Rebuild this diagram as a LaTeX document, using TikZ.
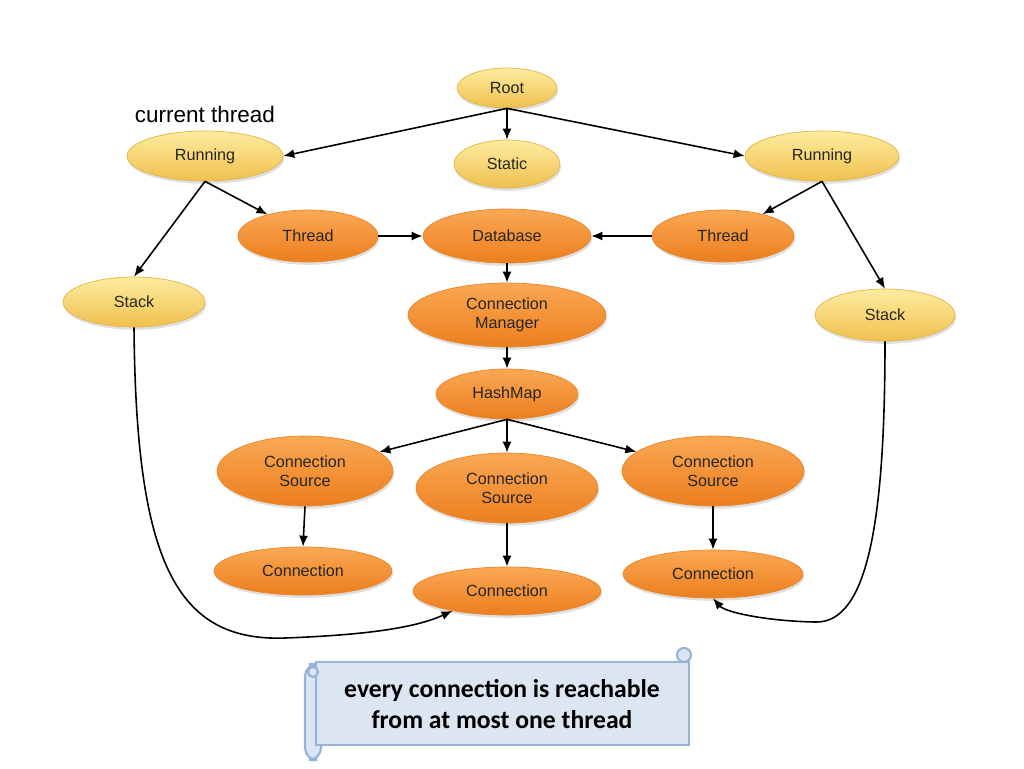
\documentclass[tikz,border=0pt]{standalone}
\usepackage{fontspec}
\setsansfont{Liberation Sans}
\newfontfamily\notefont{Carlito}
\usepackage{tikz}
\usetikzlibrary{shapes.geometric,arrows.meta,shadows}
\definecolor{ylwtop}{RGB}{253,236,160}
\definecolor{ylwbot}{RGB}{240,192,78}
\definecolor{ylwedge}{RGB}{226,180,70}
\definecolor{orgtop}{RGB}{250,168,84}
\definecolor{orgbot}{RGB}{236,126,30}
\definecolor{orgedge}{RGB}{232,134,42}
\definecolor{scrollfill}{RGB}{220,230,242}
\definecolor{scrolledge}{RGB}{149,179,215}

\begin{document}
\begin{tikzpicture}[
  x=0.02cm, y=-0.02cm,
  font=\sffamily\fontsize{9.2}{11}\selectfont,
  el/.style={ellipse, inner sep=0pt, align=center, text=black!85,
             drop shadow={shadow xshift=0.6pt, shadow yshift=-1.6pt, opacity=0.25}},
  yl/.style={el, draw=ylwedge, line width=0.4pt, top color=ylwtop, bottom color=ylwbot},
  og/.style={el, draw=orgedge, line width=0.4pt, top color=orgtop, bottom color=orgbot},
  ar/.style={-{Latex[length=2.2mm, width=1.8mm]}, line width=0.9pt, black},
  scroll/.style={draw=scrolledge, line width=1.2pt, fill=scrollfill}
]
\useasboundingbox (0,0) rectangle (1024,768);

% thread roots
\node[yl, minimum width=2cm, minimum height=0.8cm] (root) at (507,88) {Root};
\node[yl, minimum width=2.12cm, minimum height=0.96cm] (stat) at (507,164) {Static};
\node[yl, minimum width=3.12cm, minimum height=1cm] (runl) at (205,156) {Running};
\node[yl, minimum width=3.08cm, minimum height=1cm] (runr) at (822,156) {Running};
\node[yl, minimum width=2.84cm, minimum height=1cm] (stkl) at (134,302) {Stack};
\node[yl, minimum width=2.8cm, minimum height=1.04cm] (stkr) at (885,315) {Stack};
\node[font=\sffamily\fontsize{12.8}{15}\selectfont] (cur) at (205,114) {current thread};

% shared objects
\node[og, minimum width=2.8cm, minimum height=1.04cm] (thrl) at (308,236) {Thread};
\node[og, minimum width=3.36cm, minimum height=1.08cm] (db) at (507,236) {Database};
\node[og, minimum width=2.84cm, minimum height=1.04cm] (thrr) at (723,236) {Thread};
\node[og, minimum width=3.96cm, minimum height=1.28cm] (mgr) at (507,315) {Connection\\Manager};
\node[og, minimum width=2.84cm, minimum height=1cm] (hmap) at (507,394) {HashMap};
\node[og, minimum width=3.52cm, minimum height=1.4cm] (srcl) at (305,471) {Connection\\Source};
\node[og, minimum width=3.64cm, minimum height=1.4cm] (srcm) at (507,488) {Connection\\Source};
\node[og, minimum width=3.64cm, minimum height=1.4cm] (srcr) at (713,471) {Connection\\Source};
\node[og, minimum width=3.56cm, minimum height=0.96cm] (conl) at (303,571) {Connection};
\node[og, minimum width=3.76cm, minimum height=0.96cm] (conm) at (507,591) {Connection};
\node[og, minimum width=3.6cm, minimum height=0.96cm] (conr) at (713,574) {Connection};

\draw[ar] (root.south) -- (runl.east);
\draw[ar] (root.south) -- (stat.north);
\draw[ar] (root.south) -- (runr.west);
\draw[ar] (runl.south) -- (thrl);
\draw[ar] (runl.south) -- (stkl.north);
\draw[ar] (runr.south) -- (thrr);
\draw[ar] (runr.south) -- (stkr.north);
\draw[ar] (thrl) -- (db);
\draw[ar] (thrr) -- (db);
\draw[ar] (db) -- (mgr);
\draw[ar] (mgr) -- (hmap);
\draw[ar] (hmap.south) -- (srcl);
\draw[ar] (hmap.south) -- (srcm.north);
\draw[ar] (hmap.south) -- (srcr);
\draw[ar] (srcl.south) -- (conl.north);
\draw[ar] (srcm.south) -- (conm.north);
\draw[ar] (srcr.south) -- (conr.north);
\draw[ar] (stkl.south) .. controls (136,560) and (175,642) .. (285,638)
  .. controls (365,635) and (415,628) .. (conm.-160);
\draw[ar] (stkr.south) .. controls (885,520) and (868,624) .. (815,622)
  .. controls (765,621) and (725,612) .. (conr.south);

% scroll note
\draw[scroll, rounded corners=7pt] (305,664) rectangle (321,760);
\draw[scroll] (316,662) rectangle (689,745);
\draw[scroll] (684,655) circle (7);
\draw[scroll] (313,672) circle (5);
\node[font=\notefont\bfseries\fontsize{14.6}{17.2}\selectfont, align=center] (note) at (502,704)
  {every connection is reachable\\from at most one thread};
\end{tikzpicture}
\end{document}
